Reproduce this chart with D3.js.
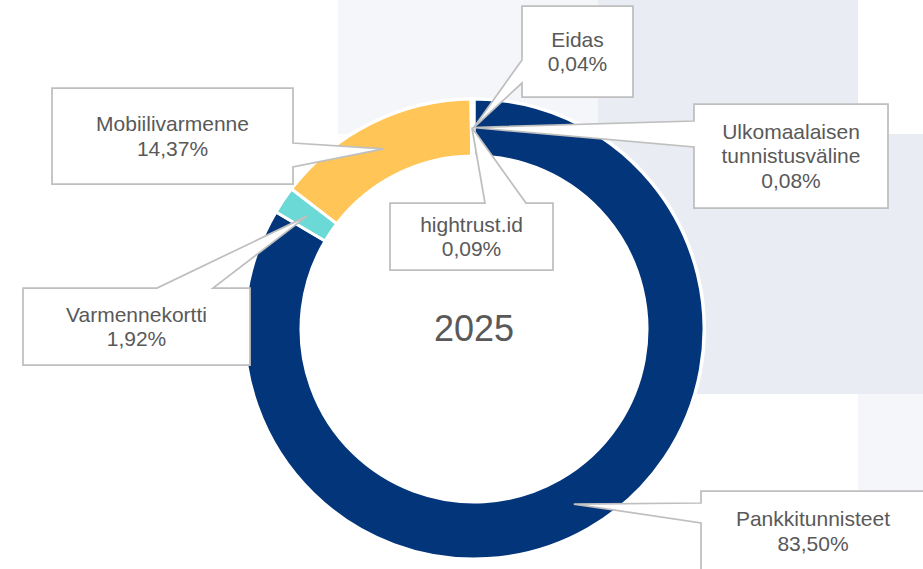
<!DOCTYPE html>
<html>
<head>
<meta charset="utf-8">
<script src="https://cdn.jsdelivr.net/npm/d3@7"></script>
<style>
    html, body { margin: 0; padding: 0; background: #fff; }
    svg { display: block; font-family: "Liberation Sans", Arial, sans-serif; }
</style>
</head>
<body>
<svg class="svg-canvas" width="923" height="569"></svg>
<script>
//Chart data, in the order the slices go round (clockwise from 12 o'clock)
var labels = ["Pankkitunnisteet", "Varmennekortti", "Mobiilivarmenne", "hightrust.id", "Ulkomaalaisen\ntunnistusväline", "Eidas"];
var values = [83.50, 1.92, 14.37, 0.09, 0.08, 0.04];
var colors = ["#02357a", "#6bd9d6", "#ffc657", "#9aa7b8", "#7f8fa6", "#c9d1dc"];
var yearLabel = "2025";

//Where the callout boxes sit and where their pointer leaves the box
var callouts = [
    {box: [701, 491, 224, 80], side: "left", base: [503, 523]},
    {box: [23, 288, 227, 77], side: "top", base: [157, 213]},
    {box: [52, 88, 241, 96], side: "right", base: [143, 167]},
    {box: [390, 203, 163, 67], side: "top", base: [485, 526]},
    {box: [694, 104, 194, 104], side: "left", base: [121, 147]},
    {box: [522, 6, 111, 91], side: "left", base: [60, 83]}
];

//Soft squares in the background
var backdrop = [
    {x: 338, y: 0, w: 260, h: 134, fill: "#f4f6f9"},
    {x: 598, y: 0, w: 260, h: 394, fill: "#e9ecf2"},
    {x: 858, y: 134, w: 65, h: 260, fill: "#e9ecf2"},
    {x: 858, y: 394, w: 65, h: 175, fill: "#f4f6f9"}
];

var w = 923;
var h = 569;
var cx = 474;
var cy = 329;
var outerR = 230;
var innerR = 173;
var textColor = "#595959";
var fontSize = 21;
var lineH = 24.5;

var svg = d3.select(".svg-canvas");

//Background squares
svg.append("g").selectAll("rect")
    .data(backdrop)
    .join("rect")
    .attr("x", function(d){ return d.x; })
    .attr("y", function(d){ return d.y; })
    .attr("width", function(d){ return d.w; })
    .attr("height", function(d){ return d.h; })
    .attr("fill", function(d){ return d.fill; });

var pie = d3.pie().sort(null).value(function(d){ return d; });
var arcs = pie(values);

var arc = d3.arc().innerRadius(innerR).outerRadius(outerR);
//Leader tips sit in the middle of the ring
var tipArc = d3.arc().innerRadius((innerR + outerR) / 2).outerRadius((innerR + outerR) / 2);

var ring = svg.append("g")
    .attr("transform", "translate(" + cx + "," + cy + ")");

//White disc behind the ring, the hole stays white
ring.append("circle")
    .attr("r", outerR + 2)
    .attr("fill", "#fff");

ring.selectAll("path")
    .data(arcs)
    .join("path")
    .attr("d", arc)
    .attr("fill", function(d, i){ return colors[i]; })
    .attr("stroke", "#fff")
    .attr("stroke-width", 3)
    .attr("stroke-linejoin", "miter");

//Year in the middle
ring.append("text")
    .attr("x", 0)
    .attr("y", 12)
    .attr("text-anchor", "middle")
    .attr("fill", textColor)
    .style("font-size", "36px")
    .text(yearLabel);

/**
 * Builds the outline of a callout box with its pointer to the tip
 */
var calloutPath = function(c, tip){
    var x = c.box[0], y = c.box[1], bw = c.box[2], bh = c.box[3];
    var a = c.base[0], b = c.base[1];
    var p = d3.path();
    if (c.side === "right"){
        p.moveTo(x, y); p.lineTo(x + bw, y); p.lineTo(x + bw, a);
        p.lineTo(tip[0], tip[1]); p.lineTo(x + bw, b);
        p.lineTo(x + bw, y + bh); p.lineTo(x, y + bh);
    } else if (c.side === "left"){
        p.moveTo(x, y); p.lineTo(x + bw, y); p.lineTo(x + bw, y + bh);
        p.lineTo(x, y + bh); p.lineTo(x, b);
        p.lineTo(tip[0], tip[1]); p.lineTo(x, a);
    } else {
        p.moveTo(x, y); p.lineTo(a, y); p.lineTo(tip[0], tip[1]);
        p.lineTo(b, y); p.lineTo(x + bw, y); p.lineTo(x + bw, y + bh);
        p.lineTo(x, y + bh);
    }
    p.closePath();
    return p.toString();
};

var fmt = function(v){ return v.toFixed(2).replace(".", ",") + "%"; };

var labelHolder = svg.append("g");

arcs.forEach(function(d, i){
    var c = callouts[i];
    var t = tipArc.centroid(d);
    var tip = [t[0] + cx, t[1] + cy];

    labelHolder.append("path")
        .attr("d", calloutPath(c, tip))
        .attr("fill", "#fff")
        .attr("stroke", "#bfbfbf")
        .attr("stroke-width", 1.75)
        .attr("stroke-linejoin", "miter");

    //Name lines plus the percentage, centred in the box
    var lines = labels[i].split("\n").concat([fmt(values[i])]);
    var midX = c.box[0] + c.box[2] / 2;
    var midY = c.box[1] + c.box[3] / 2;
    var firstY = midY - (lines.length - 1) * lineH / 2;

    lines.forEach(function(line, k){
        labelHolder.append("text")
            .attr("x", midX)
            .attr("y", firstY + k * lineH + fontSize * 0.35)
            .attr("text-anchor", "middle")
            .attr("fill", textColor)
            .style("font-size", fontSize + "px")
            .text(line);
    });
});
</script>
</body>
</html>
